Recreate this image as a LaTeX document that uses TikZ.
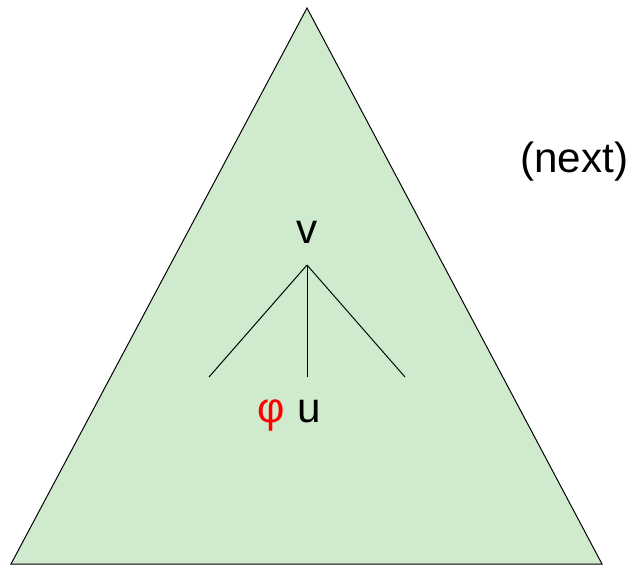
\documentclass[tikz,border=0pt]{standalone}
\usepackage{fontspec}
\setmainfont{Liberation Sans}
\usetikzlibrary{positioning}
\definecolor{treegreen}{RGB}{208,234,206}
\begin{document}
\begin{tikzpicture}[x=0.025cm,y=-0.025cm]
    \tikzstyle{label}=[font=\fontsize{30}{36}\selectfont, inner sep=0pt]
    \tikzstyle{edge}=[draw=black, line width=0.7pt]
    \useasboundingbox (0,0) rectangle (629,566);

    % Draw the big triangle
    \coordinate (top) at (307,8);
    \coordinate (bl) at (11,564);
    \coordinate (br) at (602,564);
    \filldraw[fill=treegreen, edge] (top) -- (bl) -- (br) -- cycle;

    % Draw the labels
    \node[label, anchor=base] (v) at (307,243) {v};
    \node[label, anchor=base west] (next) at (520,172) {(next)};

    % Draw the node v and its children
    \coordinate (root) at (307,265);
    \foreach \name / \x in {1/209, 2/307, 3/405}
        \coordinate (C-\name) at (\x,377);
    \foreach \dest in {1,2,3}
        \draw[edge] (root) -- (C-\dest);

    % Annotate the middle child
    \node[label, anchor=base west] (u) at (297,422) {u};
    \node[label, text=red, base left=0.3cm of u] (phi) {φ};
\end{tikzpicture}
\end{document}
